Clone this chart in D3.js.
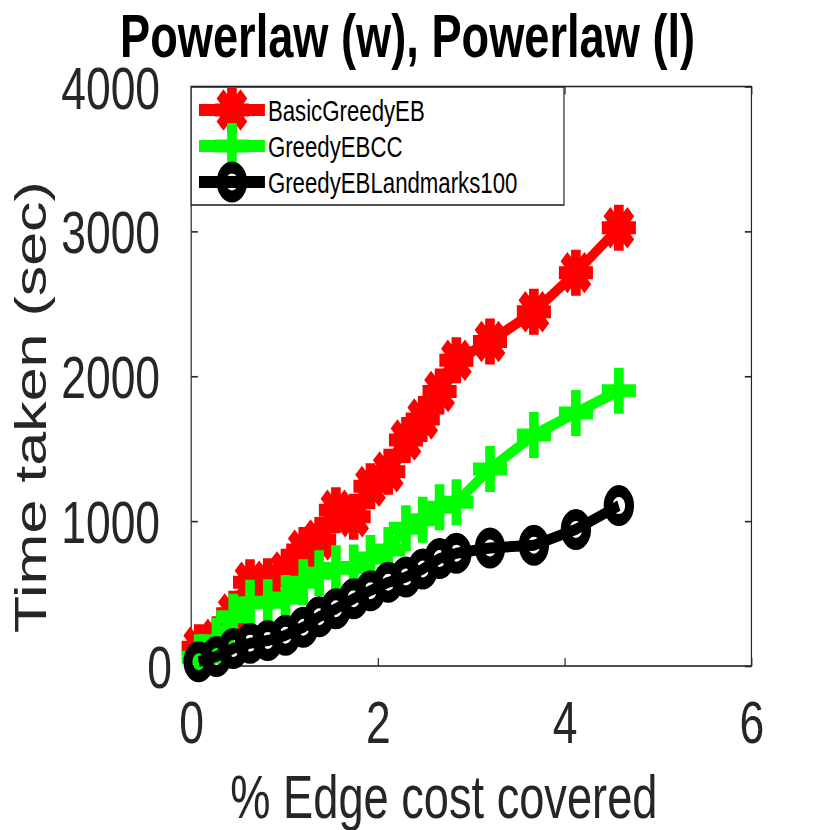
<!DOCTYPE html>
<html lang="en">
    <head>
        <meta charset="UTF-8" />
        <title>Powerlaw (w), Powerlaw (l)</title>
        <script src="https://d3js.org/d3.v7.min.js"></script>
        <style>
            body {
                margin: 0;
                padding: 0;
                background: #fff;
            }
            svg {
                display: block;
            }
            text {
                font-family: 'Liberation Sans', Arial, sans-serif;
            }
            .axis path,
            .axis line {
                stroke: #262626;
                stroke-width: 1.6px;
            }
            .axis text {
                fill: #262626;
                font-size: 60px;
            }
            .label {
                fill: #262626;
                font-size: 61px;
            }
            .title {
                fill: #000;
                font-size: 61px;
                font-weight: bold;
            }
            .legend text {
                fill: #000;
                font-size: 30px;
            }
        </style>
    </head>
    <body>
        <svg id="chart" width="830" height="830" viewBox="0 0 1120 830" preserveAspectRatio="none"></svg>

        <script>
            // % edge cost covered (shared by all three runs)
            const coverage = [0.08, 0.27, 0.45, 0.63, 0.82, 1.01, 1.2, 1.37, 1.55, 1.74, 1.92, 2.11, 2.3, 2.48, 2.66, 2.84, 3.2, 3.67, 4.12, 4.58];
            // time taken (sec)
            const basicGreedyEB = [130, 185, 360, 578, 585, 650, 800, 870, 1075, 1030, 1240, 1340, 1560, 1705, 1895, 2110, 2240, 2445, 2715, 3025];
            const greedyEBCC = [60, 175, 340, 436, 440, 470, 578, 640, 675, 680, 745, 800, 950, 1010, 1095, 1130, 1360, 1595, 1747, 1900];
            const greedyEBLandmarks100 = [30, 66, 121, 157, 176, 212, 267, 340, 395, 465, 520, 578, 614, 669, 742, 778, 815, 833, 943, 1107];

            const seriesNames = ['BasicGreedyEB', 'GreedyEBCC', 'GreedyEBLandmarks100'];
            const xTicks = [0, 2, 4, 6];
            const yTicks = [0, 1000, 2000, 3000, 4000];

            const series = [
                { name: seriesNames[0], values: basicGreedyEB, color: '#ff0000', marker: 'asterisk' },
                { name: seriesNames[1], values: greedyEBCC, color: '#00ff00', marker: 'plus' },
                { name: seriesNames[2], values: greedyEBLandmarks100, color: '#000000', marker: 'circle' },
            ];

            // the picture is squeezed horizontally, so we draw in a wider
            // coordinate space and let the viewBox stretch it
            const svg = d3.select('#chart');
            const plot = { left: 258, right: 1014, top: 86.5, bottom: 666 };

            const x = d3.scaleLinear().domain([0, 6]).range([plot.left, plot.right]);
            const y = d3.scaleLinear().domain([0, 4000]).range([plot.bottom, plot.top]);

            const markerPath = (type) => {
                const r = 23;
                const d = r * 0.7;
                if (type === 'asterisk') {
                    return `M${-r},0L${r},0M0,${-r}L0,${r}M${-d},${-d}L${d},${d}M${-d},${d}L${d},${-d}`;
                }
                if (type === 'plus') {
                    return `M${-r},0L${r},0M0,${-r}L0,${r}`;
                }
                return null;
            };

            const drawMarker = (g, type, color) => {
                if (type === 'circle') {
                    g.append('circle').attr('r', 14.5).attr('fill', 'none').attr('stroke', color).attr('stroke-width', 12);
                } else {
                    g.append('path').attr('d', markerPath(type)).attr('fill', 'none').attr('stroke', color).attr('stroke-width', 13);
                }
            };

            // axes box
            svg.append('rect')
                .attr('x', plot.left)
                .attr('y', plot.top)
                .attr('width', plot.right - plot.left)
                .attr('height', plot.bottom - plot.top)
                .attr('fill', 'none')
                .attr('stroke', '#262626')
                .attr('stroke-width', 1.6);

            const xAxis = svg.append('g').attr('class', 'axis').attr('transform', `translate(0,${plot.bottom})`)
                .call(d3.axisBottom(x).tickValues(xTicks).tickFormat(d3.format('d')).tickSizeInner(-8).tickSizeOuter(0));
            xAxis.select('.domain').remove();
            xAxis.selectAll('text').attr('dy', 0).attr('y', 77);

            svg.append('g').attr('transform', `translate(0,${plot.top})`)
                .attr('class', 'axis')
                .call(d3.axisTop(x).tickValues(xTicks).tickSizeInner(-8).tickSizeOuter(0).tickFormat(''))
                .select('.domain').remove();

            const yAxis = svg.append('g').attr('class', 'axis').attr('transform', `translate(${plot.left},0)`)
                .call(d3.axisLeft(y).tickValues(yTicks).tickFormat(d3.format('d')).tickSizeInner(-9).tickSizeOuter(0));
            yAxis.select('.domain').remove();
            yAxis.selectAll('text').attr('dy', '0.36em').attr('x', (d) => (d === 0 ? -26 : -42));

            svg.append('g').attr('transform', `translate(${plot.right},0)`)
                .attr('class', 'axis')
                .call(d3.axisRight(y).tickValues(yTicks).tickSizeInner(-9).tickSizeOuter(0).tickFormat(''))
                .select('.domain').remove();

            // series
            const line = d3.line()
                .x((d, i) => x(coverage[i]))
                .y((d) => y(d));

            series.forEach((s) => {
                const g = svg.append('g');
                g.append('path')
                    .datum(s.values)
                    .attr('d', line)
                    .attr('fill', 'none')
                    .attr('stroke', s.color)
                    .attr('stroke-width', 11)
                    .attr('stroke-linejoin', 'round');
                s.values.forEach((v, i) => {
                    const m = g.append('g').attr('transform', `translate(${x(coverage[i])},${y(v)})`);
                    drawMarker(m, s.marker, s.color);
                });
            });

            // legend
            const legend = svg.append('g').attr('class', 'legend');
            legend.append('rect')
                .attr('x', plot.left)
                .attr('y', plot.top + 0.5)
                .attr('width', 503)
                .attr('height', 118)
                .attr('fill', '#fff')
                .attr('stroke', '#262626')
                .attr('stroke-width', 1.6);

            series.forEach((s, i) => {
                const row = legend.append('g').attr('transform', `translate(0,${110 + i * 36})`);
                row.append('line')
                    .attr('x1', 268.5)
                    .attr('x2', 357.5)
                    .attr('stroke', s.color)
                    .attr('stroke-width', 12);
                drawMarker(row.append('g').attr('transform', 'translate(313,0)'), s.marker, s.color);
                row.append('text').attr('x', 361.5).attr('y', 10.5).text(s.name);
            });

            // titles
            svg.append('text')
                .attr('class', 'title')
                .attr('x', 550)
                .attr('y', 57)
                .attr('text-anchor', 'middle')
                .text('Powerlaw (w), Powerlaw (l)');

            svg.append('text')
                .attr('class', 'label')
                .attr('x', 599)
                .attr('y', 818)
                .attr('text-anchor', 'middle')
                .text('% Edge cost covered');

            svg.append('text')
                .attr('class', 'label')
                .attr('transform', 'translate(62,407) rotate(-90)')
                .attr('text-anchor', 'middle')
                .text('Time taken (sec)');
        </script>
    </body>
</html>
